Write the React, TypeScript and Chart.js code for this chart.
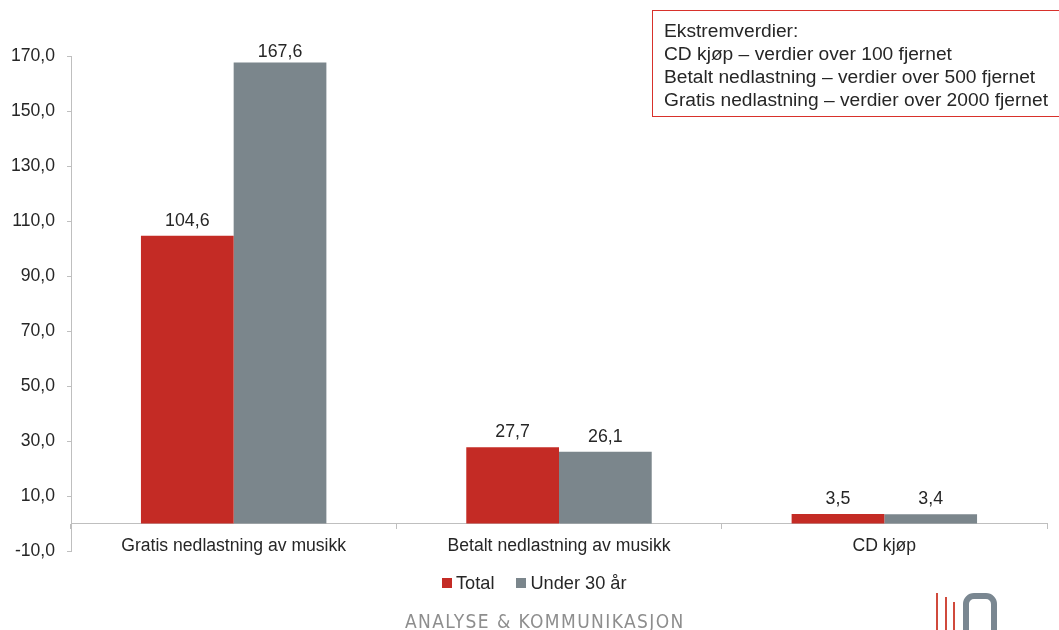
import React, { useEffect, useRef } from "react";
import { Chart, registerables } from "chart.js";

Chart.register(...registerables);

const categories = ["Gratis nedlastning av musikk", "Betalt nedlastning av musikk", "CD kjøp"];
const seriesNames = ["Total", "Under 30 år"];
const totalValues = [104.6, 27.7, 3.5];
const under30Values = [167.6, 26.1, 3.4];
const yMin = -10;
const yMax = 170;
const yStep = 20;
const noteLines = [
  "Ekstremverdier:",
  "CD kjøp – verdier over 100 fjernet",
  "Betalt nedlastning – verdier over 500 fjernet",
  "Gratis nedlastning – verdier over 2000 fjernet",
];
const footerText = "ANALYSE & KOMMUNIKASJON";

const FONT = '"Liberation Sans", Arial, sans-serif';
const TEXT = "#262626";
const RED = "#C42B25";
const GRAY = "#7B868C";
const AXIS = "#BFBFBF";
const seriesColors = [RED, GRAY];

const fmt = (v: number) => Number(v).toFixed(1).replace(".", ",");

const valueLabels = {
  id: "valueLabels",
  afterDatasetsDraw(chart: any) {
    const { ctx, chartArea } = chart;
    ctx.save();
    ctx.font = `17.8px ${FONT}`;
    ctx.fillStyle = TEXT;
    ctx.textAlign = "center";
    ctx.textBaseline = "alphabetic";
    chart.data.datasets.forEach((ds: any, i: number) => {
      const meta = chart.getDatasetMeta(i);
      meta.data.forEach((el: any, j: number) => {
        const y = Math.max(el.y - 10, chartArea.top + 1);
        ctx.fillText(fmt(ds.data[j]), el.x, y);
      });
    });
    ctx.restore();
  },
};

export default function App() {
  const ref = useRef<HTMLCanvasElement>(null);
  useEffect(() => {
    if (!ref.current) return;
    const chart = new Chart(ref.current, {
      type: "bar",
      data: {
        labels: categories,
        datasets: [
          { label: seriesNames[0], data: totalValues, backgroundColor: seriesColors[0] },
          { label: seriesNames[1], data: under30Values, backgroundColor: seriesColors[1] },
        ],
      },
      options: {
        responsive: false,
        animation: false,
        layout: { padding: { left: 0, top: 56, right: 12, bottom: 79 } },
        datasets: { bar: { barPercentage: 1, categoryPercentage: 0.57 } },
        plugins: {
          legend: { display: false },
          tooltip: { enabled: false },
        },
        scales: {
          x: {
            position: { y: 0 } as any,
            grid: { offset: true, drawOnChartArea: false, tickLength: 5, color: AXIS },
            border: { color: AXIS },
            ticks: { padding: 7, color: TEXT, font: { family: FONT, size: 17.6 } },
          },
          y: {
            min: yMin,
            max: yMax,
            ticks: {
              stepSize: yStep,
              padding: 12,
              color: TEXT,
              font: { family: FONT, size: 17.6 },
              callback: (v: any) => fmt(v),
            },
            grid: { drawOnChartArea: false, tickLength: 4, color: AXIS },
            border: { color: AXIS },
            afterFit: (s: any) => {
              s.width = 71;
            },
          },
        },
      },
      plugins: [valueLabels],
    });
    return () => chart.destroy();
  }, []);

  return (
    <div style={{ position: "absolute", left: 0, top: 0, width: 1059, height: 630, overflow: "hidden", background: "#fff" }}>
      <canvas ref={ref} width={1059} height={630} style={{ display: "block" }} />
      <div
        style={{
          position: "absolute",
          left: 442,
          top: 571,
          height: 24,
          display: "flex",
          alignItems: "center",
          fontFamily: FONT,
          fontSize: 18.2,
          color: TEXT,
          whiteSpace: "nowrap",
        }}
      >
        {seriesNames.map((n, i) => (
          <div key={i} style={{ display: "flex", alignItems: "center", marginRight: i === 0 ? 22 : 0 }}>
            <div style={{ width: 10, height: 10, background: seriesColors[i], marginRight: 4 }} />
            <span>{n}</span>
          </div>
        ))}
      </div>
      <div
        style={{
          position: "absolute",
          left: 652,
          top: 10,
          width: 420,
          height: 107,
          border: "1px solid #D8312B",
          boxSizing: "border-box",
          paddingLeft: 11,
          paddingTop: 8,
          fontFamily: FONT,
          fontSize: 19.2,
          lineHeight: "23px",
          color: TEXT,
          whiteSpace: "nowrap",
        }}
      >
        {noteLines.map((l, i) => (
          <div key={i}>{l}</div>
        ))}
      </div>
      <div
        style={{
          position: "absolute",
          left: 405,
          top: 609,
          fontFamily: '"DejaVu Sans Condensed", "Liberation Sans Narrow", sans-serif',
          fontSize: 19,
          lineHeight: "24px",
          letterSpacing: 1.4,
          color: "#8E8E8E",
          whiteSpace: "nowrap",
        }}
      >
        {footerText}
      </div>
      <div style={{ position: "absolute", left: 936, top: 593, width: 2, height: 40, background: "#D04A3C" }} />
      <div style={{ position: "absolute", left: 945, top: 597, width: 2, height: 40, background: "#D04A3C" }} />
      <div style={{ position: "absolute", left: 953, top: 602, width: 2, height: 40, background: "#D04A3C" }} />
      <div
        style={{
          position: "absolute",
          left: 963,
          top: 593,
          width: 34,
          height: 50,
          border: "6px solid #7A8791",
          borderRadius: "11px 11px 0 0",
          boxSizing: "border-box",
        }}
      />
    </div>
  );
}
